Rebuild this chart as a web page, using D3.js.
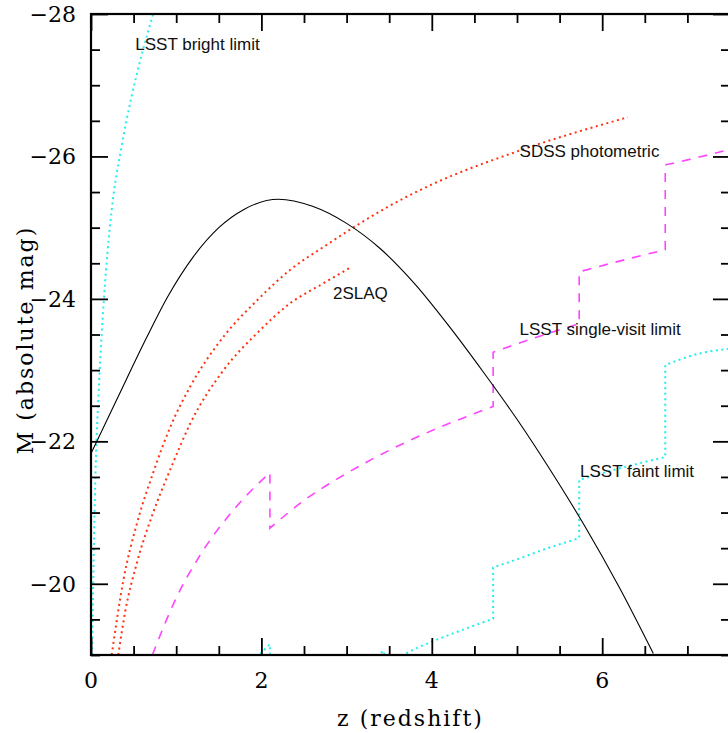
<!DOCTYPE html>
<html><head><meta charset="utf-8">
<script src="https://cdn.jsdelivr.net/npm/d3@7"></script>
<style>body{margin:0;background:#fff}svg{display:block}</style>
</head><body>
<svg id="c" width="728" height="733"></svg>
<script>
// ---- data ----
const xMajorTicks = [0, 2, 4, 6];
const xTickLabels = ["0", "2", "4", "6"];
const yMajorTicks = [-28, -26, -24, -22, -20];
const yTickLabels = ["\u221228", "\u221226", "\u221224", "\u221222", "\u221220"];

// black curve (no label)
const qsoZ = [0, 0.3, 0.65, 0.9, 1.2, 1.5, 1.8, 2.2, 2.6, 3.0, 3.4, 3.8, 4.2, 4.6, 5.0, 5.4, 5.8, 6.2, 6.6];
const qsoM = [-21.83, -22.58, -23.45, -24.03, -24.59, -25.0, -25.26, -25.40, -25.30, -25.06, -24.70, -24.21, -23.62, -22.98, -22.31, -21.58, -20.80, -19.95, -19.02];

// SDSS photometric
const sdssZ = [0.243, 0.38, 0.54, 0.73, 0.93, 1.165, 1.556, 1.95, 2.34, 2.73, 3.13, 3.48, 3.99, 5.0, 6.3];
const sdssM = [-19.0, -20.05, -20.85, -21.56, -22.2, -22.77, -23.47, -23.98, -24.41, -24.73, -25.04, -25.29, -25.6, -26.07, -26.55];

// 2SLAQ
const twoslaqZ = [0.32, 0.4, 0.54, 0.73, 0.95, 1.165, 1.556, 1.95, 2.34, 2.73, 3.03];
const twoslaqM = [-19.0, -19.6, -20.3, -21.0, -21.66, -22.25, -23.0, -23.52, -23.94, -24.22, -24.43];

// LSST bright limit
const brightZ = [0.013, 0.027, 0.045, 0.06, 0.086, 0.125, 0.176, 0.243, 0.36, 0.478, 0.6, 0.73];
const brightM = [-19.0, -20.05, -21.2, -21.85, -22.6, -23.5, -24.4, -25.25, -26.15, -26.85, -27.45, -28.0];

// LSST single-visit limit (repeated z = vertical step)
const singleZ = [0.72, 1.0, 1.28, 1.675, 2.1, 2.1, 2.5, 2.9, 3.3, 3.7, 4.1, 4.5, 4.72, 4.72, 5.2, 5.73, 5.73, 6.2, 6.74, 6.74, 7.1, 7.5];
const singleM = [-19.0, -19.8, -20.4, -21.04, -21.56, -20.78, -21.17, -21.48, -21.75, -21.99, -22.2, -22.39, -22.49, -23.25, -23.45, -23.65, -24.38, -24.53, -24.69, -25.88, -25.98, -26.1];

// LSST faint limit
const faintZ = [1.85, 1.97, 2.1, 2.1, 2.8, 3.36, 3.44, 3.44, 3.67, 4.05, 4.4, 4.72, 4.72, 4.97, 5.36, 5.73, 5.73, 6.14, 6.74, 6.74, 7.13, 7.5];
const faintM = [-18.85, -19.0, -19.15, -18.4, -18.75, -19.0, -19.06, -18.8, -19.0, -19.21, -19.37, -19.51, -20.23, -20.33, -20.5, -20.64, -21.46, -21.6, -21.78, -23.07, -23.23, -23.3];

const curveLabels = ["LSST bright limit", "SDSS photometric", "2SLAQ", "LSST single-visit limit", "LSST faint limit"];
const labelZ = [0.52, 5.03, 2.84, 5.03, 5.74];
const labelM = [-27.5, -25.99, -24.0, -23.5, -21.5];

// ---- drawing ----
const svg = d3.select("#c");
const x = d3.scaleLinear().domain([0, 7.5]).range([91, 730]);
const y = d3.scaleLinear().domain([-28, -19]).range([14, 655]);

svg.append("defs").append("clipPath").attr("id", "clip")
  .append("rect").attr("x", x(0)).attr("y", y(-28))
  .attr("width", x(7.5) - x(0)).attr("height", y(-19) - y(-28));

const line = d3.line().x(d => x(d[0])).y(d => y(d[1])).curve(d3.curveMonotoneX);

function stepPath(zs, ms) {
  const runs = [];
  let cur = [];
  zs.forEach((z, i) => {
    if (cur.length && z <= cur[cur.length - 1][0]) { runs.push(cur); cur = []; }
    cur.push([z, ms[i]]);
  });
  if (cur.length) runs.push(cur);
  return runs.map((r, i) => {
    const p = r.length > 1 ? line(r) : "M" + x(r[0][0]) + "," + y(r[0][1]);
    return i === 0 ? p : "L" + p.slice(1);
  }).join("");
}

const plot = svg.append("g").attr("clip-path", "url(#clip)");

plot.append("path").attr("d", stepPath(brightZ, brightM))
  .attr("fill", "none").attr("stroke", "#22eeee").attr("stroke-width", 2).attr("stroke-dasharray", "2,3.5");
plot.append("path").attr("d", stepPath(faintZ, faintM))
  .attr("fill", "none").attr("stroke", "#22eeee").attr("stroke-width", 2).attr("stroke-dasharray", "2,3.5");
plot.append("path").attr("d", stepPath(sdssZ, sdssM))
  .attr("fill", "none").attr("stroke", "#ff3311").attr("stroke-width", 2).attr("stroke-dasharray", "2,3.5");
plot.append("path").attr("d", stepPath(twoslaqZ, twoslaqM))
  .attr("fill", "none").attr("stroke", "#ff3311").attr("stroke-width", 2).attr("stroke-dasharray", "2,3.5");
plot.append("path").attr("d", stepPath(singleZ, singleM))
  .attr("fill", "none").attr("stroke", "#ff44ff").attr("stroke-width", 1.6).attr("stroke-dasharray", "9,8");
plot.append("path").attr("d", stepPath(qsoZ, qsoM))
  .attr("fill", "none").attr("stroke", "#000").attr("stroke-width", 1.1);

// ticks (inward on all four sides)
function ticks(axisGen, tr, vals, size) {
  const g = svg.append("g").attr("transform", tr)
    .call(axisGen.tickValues(vals).tickSize(size).tickFormat(""));
  g.select(".domain").remove();
  g.selectAll(".tick line").attr("stroke", "#000").attr("stroke-width", 1.8);
}
const xMinor = d3.range(0, 7.51, 0.5).filter(v => !xMajorTicks.includes(v));
const yMinor = d3.range(-28, -18.99, 0.5).filter(v => !yMajorTicks.includes(v));
ticks(d3.axisBottom(x), `translate(0,${y(-19)})`, xMinor, -9);
ticks(d3.axisBottom(x), `translate(0,${y(-19)})`, xMajorTicks, -17);
ticks(d3.axisTop(x), `translate(0,${y(-28)})`, xMinor, -9);
ticks(d3.axisTop(x), `translate(0,${y(-28)})`, xMajorTicks, -17);
ticks(d3.axisLeft(y), `translate(${x(0)},0)`, yMinor, -9);
ticks(d3.axisLeft(y), `translate(${x(0)},0)`, yMajorTicks, -17);
ticks(d3.axisRight(y), `translate(${x(7.5)},0)`, yMinor, -9);
ticks(d3.axisRight(y), `translate(${x(7.5)},0)`, yMajorTicks, -17);

// frame
svg.append("rect").attr("x", x(0)).attr("y", y(-28))
  .attr("width", x(7.5) - x(0)).attr("height", y(-19) - y(-28))
  .attr("fill", "none").attr("stroke", "#000").attr("stroke-width", 2.2);

// tick labels
const serif = "'DejaVu Serif', serif";
svg.selectAll(".xl").data(xMajorTicks).enter().append("text")
  .attr("x", d => x(d)).attr("y", 688).attr("text-anchor", "middle")
  .attr("font-family", serif).attr("font-size", 22).attr("fill", "#000")
  .text((d, i) => xTickLabels[i]);
svg.selectAll(".yl").data(yMajorTicks).enter().append("text")
  .attr("x", 76).attr("y", d => y(d) + 8).attr("text-anchor", "end")
  .attr("font-family", serif).attr("font-size", 22).attr("fill", "#000")
  .text((d, i) => yTickLabels[i]);

// axis titles
svg.append("text").attr("x", (x(0) + x(7.5)) / 2).attr("y", 726)
  .attr("text-anchor", "middle").attr("font-family", serif).attr("font-size", 22)
  .attr("letter-spacing", 2).attr("fill", "#000").text("z (redshift)");
svg.append("text").attr("transform", "translate(33,340) rotate(-90)")
  .attr("text-anchor", "middle").attr("font-family", serif).attr("font-size", 22)
  .attr("letter-spacing", 2).attr("fill", "#000").text("M (absolute mag)");

// curve labels
svg.selectAll(".cl").data(curveLabels).enter().append("text")
  .attr("x", (d, i) => x(labelZ[i])).attr("y", (d, i) => y(labelM[i]))
  .attr("font-family", "'Liberation Sans', Arial, sans-serif").attr("font-size", 17)
  .attr("fill", "#111").text(d => d);
</script>
</body></html>
